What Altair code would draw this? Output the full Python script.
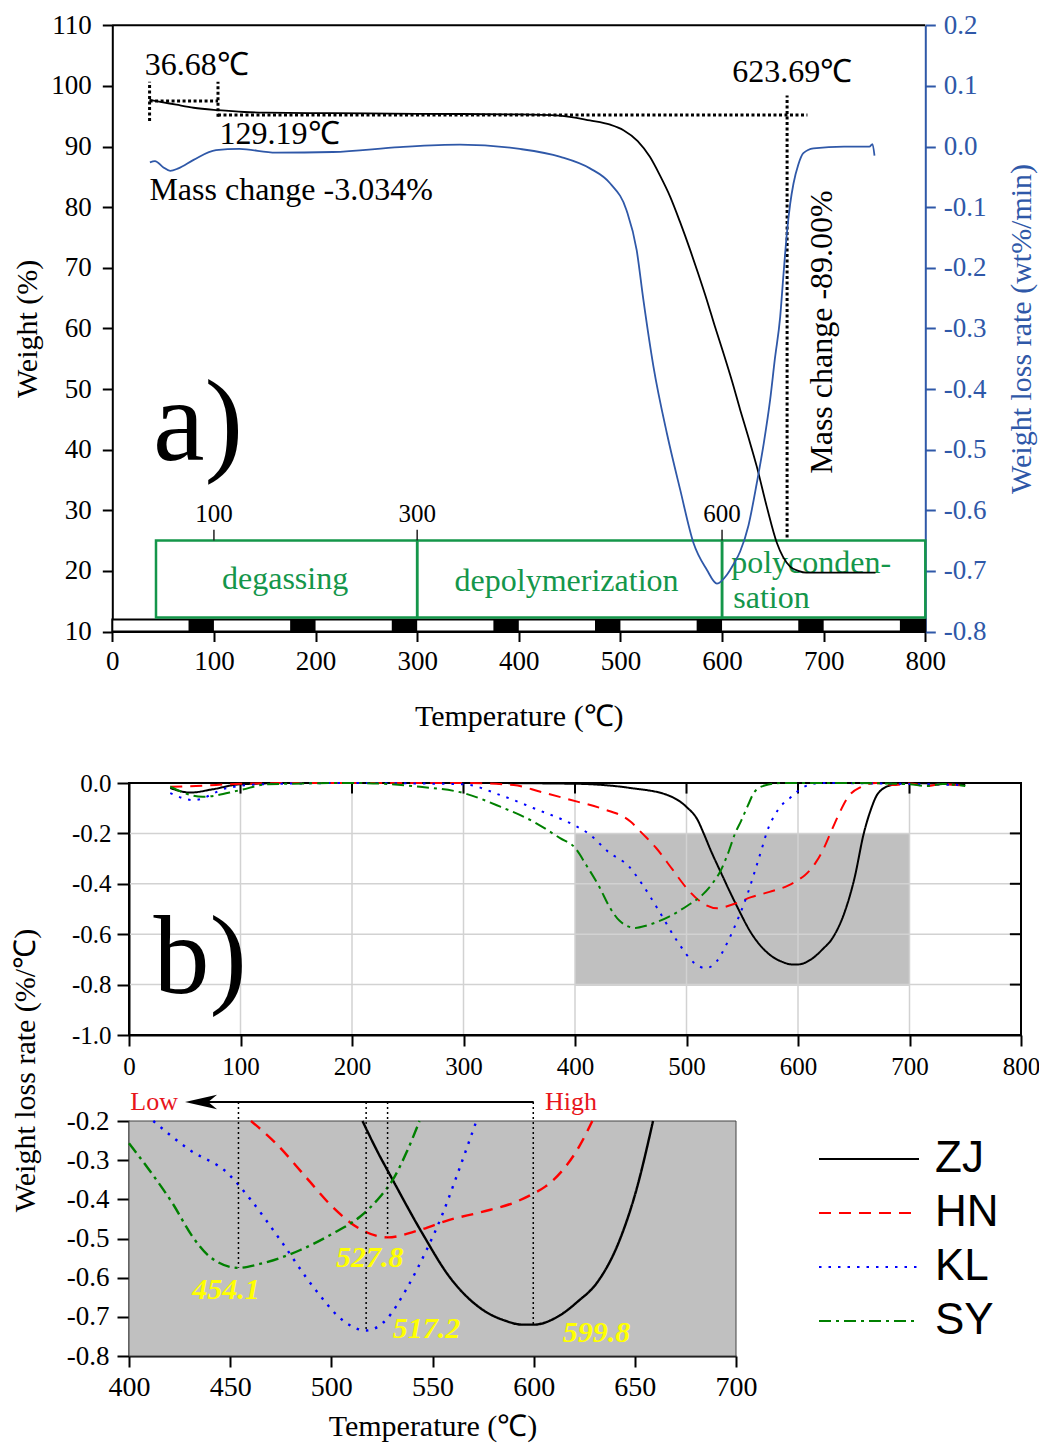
import altair as alt
import pandas as pd

W, H = 1039, 1446
SERIF = "Liberation Serif"
SANS = "Liberation Sans"
BLUE = "#2f58a8"
GREEN = "#14964a"
GRAY = "#c0c0c0"
MINUS = "\u2212"

# ---------------- panel a : TG / DTG ----------------
tg_temp = [36.68, 50, 63, 80, 104, 130, 152, 217, 300, 401, 440, 470, 490, 503, 517, 529, 539,
           549, 559, 568.6, 577, 585, 593, 601.4, 610, 617.8, 626, 634.2, 644, 654, 660, 667,
           675, 683, 751]
tg_weight = [97.7, 97.3, 96.9, 96.4, 96.0, 95.7, 95.6, 95.5, 95.4, 95.3, 95.1, 94.3, 93.6, 92.7,
             90.9, 88.3, 85.2, 81.7, 77.4, 72.95, 68.8, 64.7, 60.3, 55.9, 51.2, 46.6, 42.0, 37.2,
             30.6, 24.6, 22.3, 20.7, 20.0, 19.7, 19.7]

dtg_temp = [37, 42, 50, 57, 65, 80, 102, 125, 161, 217, 283, 342, 401, 441, 470, 490, 506, 516,
            522.6, 532.5, 545.7, 558.8, 571.9, 585, 595, 605, 611, 617.8, 626, 634.2, 641, 647.3,
            652, 657.2, 660.5, 663.8, 667, 670.3, 675, 680, 690, 720, 745, 748, 750]
dtg_rate = [-0.026, -0.024, -0.034, -0.040, -0.036, -0.022, -0.006, -0.004, -0.010, -0.009,
            -0.001, 0.003, -0.004, -0.017, -0.036, -0.061, -0.105, -0.171, -0.253, -0.363,
            -0.473, -0.566, -0.654, -0.698, -0.721, -0.706, -0.69, -0.668, -0.625, -0.555, -0.49,
            -0.418, -0.35, -0.281, -0.21, -0.143, -0.095, -0.061, -0.03, -0.011, -0.003, 0.0,
            0.0, 0.004, -0.015]

weight_ticks = list(range(10, 111, 10))
rate_ticks = [0.2, 0.1, 0.0, -0.1, -0.2, -0.3, -0.4, -0.5, -0.6, -0.7, -0.8]
temp_ticks = list(range(0, 801, 100))

strip_black_start = [75, 175, 275, 375, 475, 575, 675, 775]
strip_black_end = [100, 200, 300, 400, 500, 600, 700, 800]

stage_start = [43, 300, 600]
stage_end = [300, 600, 800]
stage_marks = [100, 300, 600]
stage_mark_labels = ["100", "300", "600"]

stage_label_text = ["degassing", "depolymerization"]
stage_label_T = [170, 447]
stage_label_w = [18.6, 18.3]
stage2_text = ["polyconden-", "sation"]
stage2_T = [609, 611]
stage2_w = [21.3, 15.5]

guide_x1 = [36.68, 36.68, 104, 104, 664]
guide_x2 = [104, 36.68, 104, 684, 664]
guide_y1 = [97.5, 94.2, 94.9, 95.2, 25.5]
guide_y2 = [97.5, 100.7, 100.7, 95.2, 98.4]

note_text = ["36.68\u2103", "129.19\u2103", "Mass change -3.034%", "623.69\u2103"]
note_T = [32, 105.5, 36.5, 610]
note_w = [101.8, 90.5, 81.2, 100.7]
vnote_text = ["Mass change -89.00%"]
vnote_T = [698]
vnote_w = [59.4]

# ---------------- panel b : DTG of four samples ----------------
series_names = ["ZJ", "HN", "KL", "SY"]
series_colors = ["#000000", "#ff0000", "#0000ff", "#008000"]
series_dash = [[1, 0], [12, 8], [2.5, 7], [12, 5, 3, 5]]

zj_T = [37, 55, 75, 100, 150, 200, 300, 400, 450, 483, 500, 510, 515.4, 522, 530.4, 545, 558.4,
        574.8, 586, 594.5, 600, 613, 622, 631, 642.5, 650.7, 659, 665, 672, 684, 700, 725, 750]
zj_v = [-0.02, -0.038, -0.025, -0.005, 0, 0, 0, -0.003, -0.02, -0.048, -0.095, -0.147, -0.2,
        -0.27, -0.351, -0.487, -0.598, -0.682, -0.71, -0.72, -0.72, -0.696, -0.66, -0.615, -0.504,
        -0.377, -0.2, -0.11, -0.04, -0.008, 0, -0.003, -0.008]
hn_T = [37, 60, 100, 150, 200, 300, 345, 369, 402, 423, 450, 460.3, 472.6, 487.4, 500.5, 513.6,
        527.8, 543.2, 558, 574.5, 591, 600, 605.9, 615.7, 622.4, 629, 636, 645, 657, 670, 685,
        700, 715, 730, 750]
hn_v = [-0.015, -0.012, -0.003, 0, 0, 0, -0.008, -0.035, -0.074, -0.1, -0.154, -0.2, -0.257,
        -0.343, -0.419, -0.474, -0.497, -0.479, -0.453, -0.432, -0.407, -0.385, -0.367, -0.317,
        -0.266, -0.2, -0.13, -0.055, -0.015, 0, -0.008, -0.002, -0.012, -0.004, -0.012]
kl_T = [37, 58, 88, 120, 200, 300, 333, 363, 399, 412, 430, 448.5, 460, 474.8, 491, 507.5, 517.2,
        527, 537, 547, 555, 561.8, 568.4, 571.7, 582, 594, 605.6, 620, 700, 725, 750]
kl_v = [-0.04, -0.068, -0.02, -0.005, 0, -0.005, -0.048, -0.1, -0.167, -0.2, -0.274, -0.332,
        -0.40, -0.504, -0.623, -0.716, -0.735, -0.708, -0.63, -0.53, -0.437, -0.343, -0.248, -0.2,
        -0.107, -0.055, -0.015, 0, -0.004, -0.006, -0.008]
sy_T = [37, 66, 100, 124, 200, 261, 300, 333, 363, 387, 400, 410, 421.5, 431.5, 440, 454.1,
        464.6, 484.4, 500.8, 514, 524, 530.4, 537, 543.6, 549, 555, 561, 570, 585, 650, 700, 715,
        730, 750]
sy_v = [-0.015, -0.055, -0.028, -0.005, 0, -0.015, -0.04, -0.094, -0.154, -0.22, -0.257, -0.325,
        -0.41, -0.496, -0.547, -0.575, -0.565, -0.53, -0.487, -0.445, -0.394, -0.35, -0.282, -0.2,
        -0.15, -0.09, -0.035, -0.01, 0, 0, -0.005, -0.012, -0.004, -0.012]

b_grid_T = [100, 200, 300, 400, 500, 600, 700]
b_grid_v = [-0.2, -0.4, -0.6, -0.8]
b_ticks_v = [0.0, -0.2, -0.4, -0.6, -0.8, -1.0]
inset_ticks_T = [400, 450, 500, 550, 600, 650, 700]
inset_ticks_v = [-0.2, -0.3, -0.4, -0.5, -0.6, -0.7, -0.8]

peak_T = [454.1, 517.2, 527.8, 599.8]
peak_v = [-0.575, -0.735, -0.497, -0.72]
peak_label = ["454.1", "517.2", "527.8", "599.8"]
peak_label_T = [448, 547, 519, 631]
peak_label_v = [-0.632, -0.73, -0.55, -0.742]

arrow_level = -0.1515
arrow_from_T = 600
arrow_to_T = 436
arrow_head_T = 435.6
trend_text = ["Low", "High"]
trend_T = [424.2, 605.6]

# ---------------- tables ----------------
rows = []
for name, ts, vs in zip(series_names, [zj_T, hn_T, kl_T, sy_T], [zj_v, hn_v, kl_v, sy_v]):
    for t, v in zip(ts, vs):
        rows.append({"T": t, "v": v, "series": name})
series_df = pd.DataFrame(rows)
inset_df = series_df[(series_df["T"] >= 400) & (series_df["T"] <= 700) & (series_df["v"] <= -0.2 + 1e-9)]


def sc(domain, rng):
    return alt.Scale(domain=domain, range=rng, nice=False, zero=False)


def axis(**kw):
    base = dict(grid=False, labelFont=SERIF, labelColor="black", tickColor="black",
                domainColor="black", domainWidth=2, tickWidth=2, labelFlush=False,
                labelOverlap=False, titleFont=SERIF, titleFontWeight="normal", titleColor="black")
    base.update(kw)
    return alt.Axis(**base)


def minus_expr(fmt):
    return "replace(format(datum.value, '%s'), '%s', '-')" % (fmt, MINUS)


# ---------------- scales and axes ----------------
A_X = sc([0, 800], [112.3, 925.3])
A_Y = sc([10, 110], [631.5, 25.3])
A_Y2 = sc([-0.8, 0.2], [631.5, 25.3])
B_X = sc([0, 800], [129, 1021])
B_Y = sc([-1, 0], [1035, 783])
I_X = sc([400, 700], [129, 736])
I_Y = sc([-0.8, -0.2], [1356, 1121])

ax_A_x = axis(orient="bottom", offset=631.5 - H, values=temp_ticks, tickSize=10,
              labelFontSize=27, labelPadding=7, title="Temperature (\u2103)", titleFontSize=30,
              titleBaseline="top", titleY=70)
ax_A_y = axis(orient="left", offset=-112.3, values=weight_ticks, tickSize=10, labelFontSize=27,
              labelPadding=11, title="Weight (%)", titleFontSize=30, titleAngle=270,
              titleBaseline="bottom", titleX=-70)
ax_A_y2 = axis(orient="right", offset=925.3 - W, values=rate_ticks, tickSize=10,
               labelFontSize=27, labelPadding=8, labelColor=BLUE, tickColor=BLUE,
               domainColor=BLUE, labelExpr=minus_expr(".1f"),
               title="Weight loss rate (wt%/min)", titleColor=BLUE, titleFontSize=30,
               titleAngle=270, titleBaseline="top", titleX=81)
ax_B_x = axis(orient="bottom", offset=1035 - H, values=temp_ticks, tickSize=11, labelFontSize=25,
              labelPadding=8, title=None)
ax_B_y = axis(orient="left", offset=-129, values=b_ticks_v, tickSize=12, labelFontSize=25,
              labelPadding=6, labelExpr=minus_expr(".1f"), title="Weight loss rate (%/\u2103)",
              titleFontSize=30, titleAngle=270, titleBaseline="bottom", titleX=40 - 129,
              titleY=1070)
ax_I_x = axis(orient="bottom", offset=1356 - H, values=inset_ticks_T, tickSize=11,
              labelFontSize=28, labelPadding=6, title="Temperature (\u2103)", titleFontSize=30,
              titleBaseline="top", titleY=55)
ax_I_y = axis(orient="left", offset=-129, values=inset_ticks_v, tickSize=12, labelFontSize=27,
              labelPadding=8, labelExpr=minus_expr(".1f"), title=None)


def xa(f): return alt.X(f, type="quantitative", scale=A_X, axis=ax_A_x)
def ya(f): return alt.Y(f, type="quantitative", scale=A_Y, axis=ax_A_y)
def xb(f): return alt.X(f, type="quantitative", scale=B_X, axis=ax_B_x)
def yb(f): return alt.Y(f, type="quantitative", scale=B_Y, axis=ax_B_y)
def xi(f): return alt.X(f, type="quantitative", scale=I_X, axis=ax_I_x)
def yi(f): return alt.Y(f, type="quantitative", scale=I_Y, axis=ax_I_y)


legend = alt.Legend(title=None, orient="none", legendX=818, legendY=1134, symbolType="stroke",
                    symbolSize=10000, symbolStrokeWidth=2, clipHeight=50, rowPadding=4,
                    labelFont=SANS, labelFontSize=44, labelColor="black", labelOffset=15,
                    labelLimit=300, padding=0)
color_enc = alt.Color("series:N", scale=alt.Scale(domain=series_names, range=series_colors),
                      legend=legend)
dash_enc = alt.StrokeDash("series:N", scale=alt.Scale(domain=series_names, range=series_dash),
                          legend=legend)

# ---------------- panel a layers ----------------
strip_bg = alt.Chart(pd.DataFrame({"T0": [0], "T1": [800], "w0": [10], "w1": [12]})).mark_rect(
    fill="white", stroke="black", strokeWidth=2).encode(
    x=xa("T0"), x2="T1:Q", y=ya("w0"), y2="w1:Q")

strip_black = alt.Chart(pd.DataFrame({"T0": strip_black_start, "T1": strip_black_end,
                                      "w0": [10] * 8, "w1": [12] * 8})).mark_rect(
    color="black").encode(x=xa("T0"), x2="T1:Q", y=ya("w0"), y2="w1:Q")

stage_boxes = alt.Chart(pd.DataFrame({"T0": stage_start, "T1": stage_end,
                                      "w0": [12.3] * 3, "w1": [25] * 3})).mark_rect(
    fillOpacity=0, stroke=GREEN, strokeWidth=2.5).encode(
    x=xa("T0"), x2="T1:Q", y=ya("w0"), y2="w1:Q")

stage_ticks = alt.Chart(pd.DataFrame({"T": stage_marks, "w0": [25] * 3, "w1": [26.8] * 3})).mark_rule(
    color="#222", strokeWidth=1.5).encode(x=xa("T"), y=ya("w0"), y2="w1:Q")

stage_tick_text = alt.Chart(pd.DataFrame({"T": stage_marks, "w": [29.4] * 3,
                                          "t": stage_mark_labels})).mark_text(
    font=SERIF, fontSize=25, color="black", baseline="middle").encode(
    x=xa("T"), y=ya("w"), text="t:N")

stage_text1 = alt.Chart(pd.DataFrame({"T": stage_label_T, "w": stage_label_w,
                                      "t": stage_label_text})).mark_text(
    font=SERIF, fontSize=32, color=GREEN, baseline="middle", align="center").encode(
    x=xa("T"), y=ya("w"), text="t:N")

stage_text2 = alt.Chart(pd.DataFrame({"T": stage2_T, "w": stage2_w, "t": stage2_text})).mark_text(
    font=SERIF, fontSize=32, color=GREEN, baseline="middle", align="left").encode(
    x=xa("T"), y=ya("w"), text="t:N")

guides = alt.Chart(pd.DataFrame({"x1": guide_x1, "x2": guide_x2, "y1": guide_y1,
                                 "y2": guide_y2})).mark_rule(
    color="black", strokeWidth=3, strokeDash=[3, 2.5]).encode(
    x=xa("x1"), x2="x2:Q", y=ya("y1"), y2="y2:Q")

tg_line = alt.Chart(pd.DataFrame({"T": tg_temp, "w": tg_weight})).mark_line(
    color="black", strokeWidth=1.8, interpolate="monotone").encode(x=xa("T"), y=ya("w"))

notes = alt.Chart(pd.DataFrame({"T": note_T, "w": note_w, "t": note_text})).mark_text(
    font=SERIF, fontSize=32, color="black", align="left", baseline="alphabetic").encode(
    x=xa("T"), y=ya("w"), text="t:N")

vnote = alt.Chart(pd.DataFrame({"T": vnote_T, "w": vnote_w, "t": vnote_text})).mark_text(
    font=SERIF, fontSize=32, color="black", align="center", baseline="middle", angle=270).encode(
    x=xa("T"), y=ya("w"), text="t:N")

a_label = alt.Chart(pd.DataFrame({"T": [40], "w": [38.3], "t": ["a)"]})).mark_text(
    font=SERIF, fontSize=116, color="black", align="left", baseline="alphabetic").encode(
    x=xa("T"), y=ya("w"), text="t:N")

top_frame = alt.Chart(pd.DataFrame({"T0": [0], "T1": [800], "w": [110]})).mark_rule(
    color="black", strokeWidth=2).encode(x=xa("T0"), x2="T1:Q", y=ya("w"))

group_a = alt.layer(strip_bg, strip_black, stage_boxes, stage_ticks, stage_tick_text, stage_text1,
                    stage_text2, guides, tg_line, notes, vnote, a_label, top_frame)

dtg_line = alt.Chart(pd.DataFrame({"T": dtg_temp, "r": dtg_rate})).mark_line(
    color=BLUE, strokeWidth=1.8, interpolate="monotone").encode(
    x=alt.X("T:Q", scale=A_X, axis=None), y=alt.Y("r:Q", scale=A_Y2, axis=ax_A_y2))
group_a2 = alt.layer(dtg_line)

# ---------------- panel b main ----------------
b_gray = alt.Chart(pd.DataFrame({"T0": [400], "T1": [700], "v0": [-0.805], "v1": [-0.2]})).mark_rect(
    color=GRAY).encode(x=xb("T0"), x2="T1:Q", y=yb("v0"), y2="v1:Q")

b_vgrid = alt.Chart(pd.DataFrame({"T": b_grid_T, "v0": [-1] * 7, "v1": [0] * 7})).mark_rule(
    color="#d2d2d2", strokeWidth=1.5).encode(x=xb("T"), y=yb("v0"), y2="v1:Q")
b_hgrid = alt.Chart(pd.DataFrame({"v": b_grid_v, "T0": [0] * 4, "T1": [800] * 4})).mark_rule(
    color="#d2d2d2", strokeWidth=1.5).encode(x=xb("T0"), x2="T1:Q", y=yb("v"))

b_frame = alt.Chart(pd.DataFrame({"T0": [0], "T1": [800], "v0": [-1], "v1": [0]})).mark_rect(
    fillOpacity=0, stroke="black", strokeWidth=2).encode(
    x=xb("T0"), x2="T1:Q", y=yb("v0"), y2="v1:Q")
b_top_ticks = alt.Chart(pd.DataFrame({"T": b_grid_T, "v0": [0] * 7, "v1": [-0.042] * 7})).mark_rule(
    color="black", strokeWidth=2).encode(x=xb("T"), y=yb("v0"), y2="v1:Q")
b_right_ticks = alt.Chart(pd.DataFrame({"v": b_grid_v, "T0": [790] * 4, "T1": [800] * 4})).mark_rule(
    color="black", strokeWidth=2).encode(x=xb("T0"), x2="T1:Q", y=yb("v"))

b_lines = alt.Chart(series_df).mark_line(strokeWidth=2, interpolate="monotone").encode(
    x=xb("T"), y=yb("v"), color=color_enc, strokeDash=dash_enc, detail="series:N")

b_label = alt.Chart(pd.DataFrame({"T": [22], "v": [-0.833], "t": ["b)"]})).mark_text(
    font=SERIF, fontSize=112, color="black", align="left", baseline="alphabetic").encode(
    x=xb("T"), y=yb("v"), text="t:N")

group_b = alt.layer(b_gray, b_vgrid, b_hgrid, b_frame, b_top_ticks, b_right_ticks, b_lines, b_label)

# ---------------- panel b inset ----------------
i_gray = alt.Chart(pd.DataFrame({"T0": [400], "T1": [700], "v0": [-0.8], "v1": [-0.2]})).mark_rect(
    color=GRAY, stroke="#444", strokeWidth=1).encode(x=xi("T0"), x2="T1:Q", y=yi("v0"), y2="v1:Q")

i_lines = alt.Chart(inset_df).mark_line(strokeWidth=2.4, interpolate="monotone").encode(
    x=xi("T"), y=yi("v"), color=color_enc, strokeDash=dash_enc, detail="series:N")

i_peaks = alt.Chart(pd.DataFrame({"T": peak_T, "v0": [arrow_level] * 4, "v1": peak_v})).mark_rule(
    color="black", strokeWidth=1.5, strokeDash=[2, 3]).encode(x=xi("T"), y=yi("v0"), y2="v1:Q")

i_peak_text = alt.Chart(pd.DataFrame({"T": peak_label_T, "v": peak_label_v, "t": peak_label})).mark_text(
    font=SERIF, fontSize=30, fontWeight="bold", fontStyle="italic", color="#ffff00",
    align="center", baseline="middle").encode(x=xi("T"), y=yi("v"), text="t:N")

i_arrow = alt.Chart(pd.DataFrame({"T0": [arrow_to_T], "T1": [arrow_from_T], "v": [arrow_level]})).mark_rule(
    color="black", strokeWidth=2).encode(x=xi("T0"), x2="T1:Q", y=yi("v"))
i_head = alt.Chart(pd.DataFrame({"T": [arrow_head_T], "v": [arrow_level]})).mark_point(
    shape="M -1 0 L 1 -0.45 L 0.45 0 L 1 0.45 Z", filled=True, size=1024, color="black",
    opacity=1).encode(x=xi("T"), y=yi("v"))
i_low = alt.Chart(pd.DataFrame({"T": [trend_T[0]], "v": [arrow_level], "t": [trend_text[0]]})).mark_text(
    font=SERIF, fontSize=26, color="#e8151b", align="right", baseline="middle").encode(
    x=xi("T"), y=yi("v"), text="t:N")
i_high = alt.Chart(pd.DataFrame({"T": [trend_T[1]], "v": [arrow_level], "t": [trend_text[1]]})).mark_text(
    font=SERIF, fontSize=26, color="#e8151b", align="left", baseline="middle").encode(
    x=xi("T"), y=yi("v"), text="t:N")

group_i = alt.layer(i_gray, i_lines, i_peaks, i_peak_text, i_arrow, i_head, i_low, i_high)

chart = alt.layer(group_a, group_a2, group_b, group_i).resolve_scale(
    x="independent", y="independent").properties(
    width=W, height=H, padding=0, autosize=alt.AutoSizeParams(type="none"),
    background="white").configure_view(stroke=None)

chart.save("out.html", embed_options={"renderer": "svg", "actions": False})
